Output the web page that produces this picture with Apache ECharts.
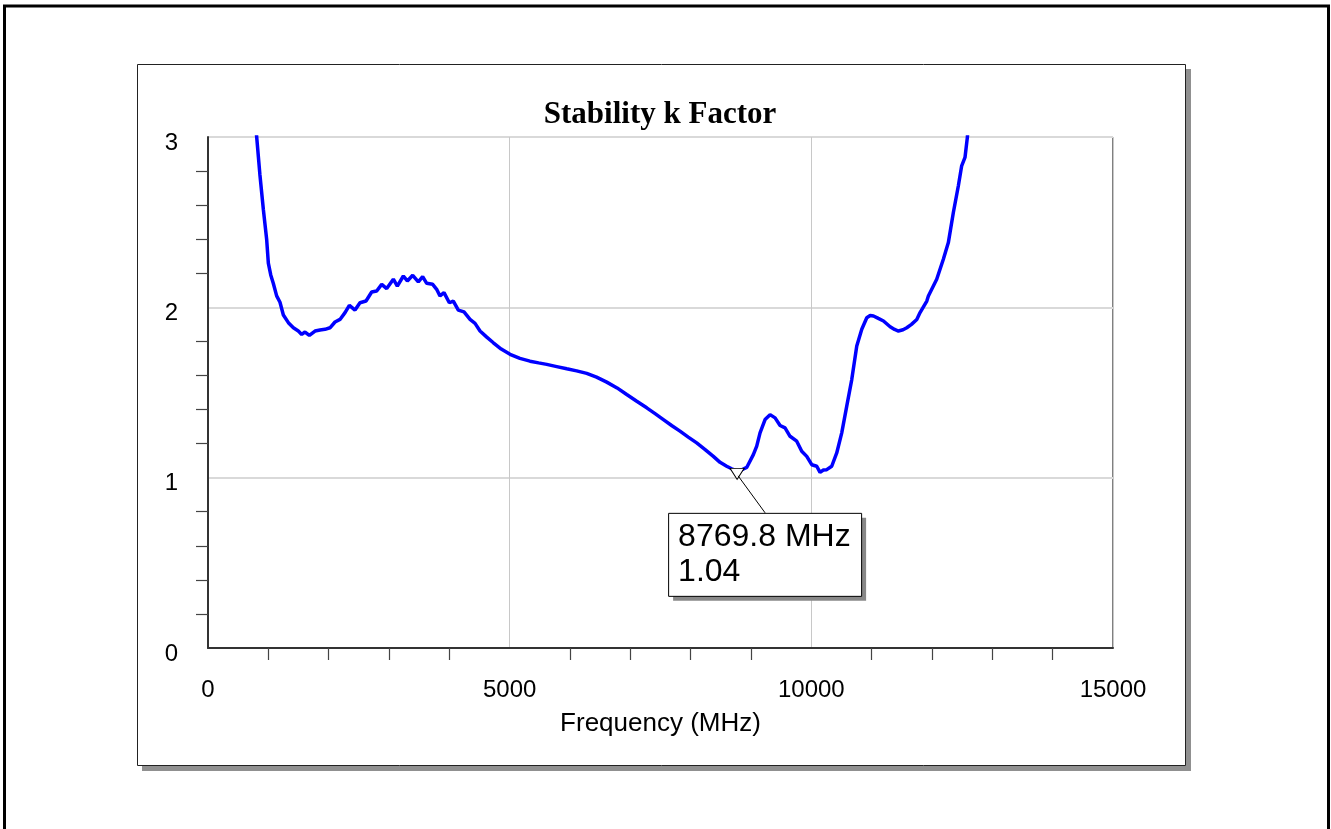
<!DOCTYPE html>
<html>
<head>
<meta charset="utf-8">
<title>Stability k Factor</title>
<script src="https://cdn.jsdelivr.net/npm/echarts@6/dist/echarts.min.js"></script>
<style>
  html, body { margin: 0; padding: 0; background: #fff; }
  #main { width: 1331px; height: 829px; }
</style>
</head>
<body>
<div id="main"></div>
<script>
// frequency points (MHz) and k factor
var freqs = [720, 807, 860, 917, 972, 1000, 1040, 1083, 1138, 1193, 1249, 1332, 1415, 1497, 1553, 1608, 1680,
  1774, 1856, 1939, 2022, 2105, 2188, 2271, 2343, 2437, 2519, 2619, 2713, 2796, 2879, 2962, 3072, 3138,
  3238, 3304, 3393, 3486, 3558, 3625, 3724, 3790, 3845, 3912, 4000, 4066, 4149, 4243, 4343, 4426, 4509,
  4620, 4730, 4860, 5006, 5170, 5337, 5480, 5614, 5780, 5946, 6110, 6277, 6440, 6609, 6780, 6940, 7100,
  7272, 7410, 7548, 7690, 7823, 7960, 8100, 8240, 8376, 8487, 8597, 8680, 8770, 8840, 8929, 9039, 9095,
  9150, 9233, 9316, 9399, 9482, 9564, 9647, 9758, 9841, 9924, 10007, 10090, 10144, 10200, 10255, 10338,
  10421, 10504, 10587, 10670, 10753, 10836, 10919, 10975, 11030, 11110, 11196, 11306, 11380, 11444, 11520,
  11582, 11660, 11748, 11802, 11914, 11940, 12078, 12188, 12271, 12354, 12437, 12492, 12547, 12586, 12650];
var kVals = [3.35, 3.0, 2.78, 2.576, 2.40, 2.26, 2.19, 2.14, 2.067, 2.030, 1.955, 1.910, 1.880, 1.861, 1.841, 1.855, 1.835,
  1.861, 1.867, 1.871, 1.880, 1.914, 1.929, 1.969, 2.012, 1.984, 2.027, 2.037, 2.090, 2.096, 2.135, 2.110, 2.165, 2.125,
  2.184, 2.155, 2.188, 2.149, 2.180, 2.141, 2.135, 2.106, 2.067, 2.086, 2.027, 2.037, 1.984, 1.973, 1.929, 1.906, 1.861,
  1.825, 1.792, 1.755, 1.724, 1.700, 1.684, 1.674, 1.665, 1.652, 1.639, 1.627, 1.612, 1.590, 1.561, 1.527, 1.488, 1.450,
  1.410, 1.376, 1.341, 1.305, 1.273, 1.238, 1.204, 1.165, 1.125, 1.090, 1.067, 1.052, 1.040, 1.045, 1.060, 1.135, 1.185,
  1.263, 1.341, 1.370, 1.351, 1.306, 1.292, 1.243, 1.214, 1.155, 1.125, 1.076, 1.067, 1.031, 1.045, 1.047, 1.067,
  1.145, 1.263, 1.420, 1.576, 1.773, 1.871, 1.939, 1.952, 1.949, 1.935, 1.920, 1.886, 1.870, 1.861, 1.868,
  1.880, 1.900, 1.929, 1.969, 2.037, 2.067, 2.165, 2.282, 2.380, 2.557, 2.714, 2.831, 2.880, 2.998, 3.30];

var xTicks = [0, 5000, 10000, 15000];
var yTicks = [0, 1, 2, 3];

// marker readout
var markerFreq = 8769.8;
var markerK = 1.04;

var data = [];
for (var i = 0; i < freqs.length; i++) {
    data.push([freqs[i], kVals[i]]);
}

var myChart = echarts.init(document.getElementById('main'));

var option = {
    animation: false,
    backgroundColor: '#fff',
    title: {
        text: 'Stability k Factor',
        left: 660,
        textAlign: 'center',
        top: 99,
        padding: 0,
        textStyle: {
            fontFamily: '"Liberation Serif", "Times New Roman", serif',
            fontWeight: 'bold',
            fontSize: 31,
            color: '#000'
        }
    },
    grid: {
        left: 208,
        top: 137,
        right: 218,
        bottom: 181,
        show: true,
        borderColor: '#000',
        borderWidth: 1,
        backgroundColor: 'transparent'
    },
    xAxis: {
        type: 'value',
        min: xTicks[0],
        max: xTicks[xTicks.length - 1],
        interval: 5000,
        name: 'Frequency (MHz)',
        nameLocation: 'middle',
        nameGap: 63,
        nameTextStyle: {
            fontFamily: '"Liberation Sans", Arial, sans-serif',
            fontSize: 26,
            color: '#000'
        },
        axisLine: { show: true, lineStyle: { color: '#333', width: 2 } },
        axisTick: { show: false },
        minorTick: { show: true, splitNumber: 5, length: 12, lineStyle: { color: '#444', width: 1.2 } },
        axisLabel: {
            margin: 30,
            formatter: function (v) { return String(v); },
            fontFamily: '"Liberation Sans", Arial, sans-serif',
            fontSize: 24,
            color: '#000'
        },
        splitLine: { show: true, lineStyle: { color: '#c8c8c8', width: 1 } }
    },
    yAxis: {
        type: 'value',
        min: yTicks[0],
        max: yTicks[yTicks.length - 1],
        interval: 1,
        axisLine: { show: true, lineStyle: { color: '#333', width: 2 } },
        axisTick: { show: false },
        minorTick: { show: true, splitNumber: 5, length: 12, lineStyle: { color: '#444', width: 1.2 } },
        axisLabel: {
            margin: 30,
            verticalAlign: 'top',
            lineHeight: 12,
            fontFamily: '"Liberation Sans", Arial, sans-serif',
            fontSize: 24,
            color: '#000'
        },
        splitLine: { show: true, lineStyle: { color: '#d9d9d9', width: 2 } }
    },
    series: [
        {
            type: 'line',
            data: data,
            showSymbol: false,
            clip: true,
            lineStyle: { color: '#0000ff', width: 3.5 },
            markPoint: {
                symbol: 'triangle',
                symbolRotate: 180,
                symbolSize: [14, 11],
                symbolOffset: [0, 3],
                label: { show: false },
                itemStyle: { color: '#fff', borderColor: '#000', borderWidth: 1 },
                data: [{ coord: [markerFreq, markerK] }]
            }
        }
    ]
};

myChart.setOption(option);

// frames + marker readout box, placed from the marker's pixel position
var p = myChart.convertToPixel({ gridIndex: 0 }, [markerFreq, markerK]);
var boxL = p[0] - 69, boxT = p[1] + 42, boxW = 193, boxH = 83;

myChart.setOption({
    graphic: [
        // outer frame
        { type: 'rect', z: -20, silent: true, shape: { x: 4.5, y: 6, width: 1324, height: 830 },
          style: { fill: 'none', stroke: '#000', lineWidth: 3 } },
        // chart panel shadow + panel
        { type: 'rect', z: -19, silent: true, shape: { x: 142, y: 69, width: 1049, height: 702 },
          style: { fill: '#909090' } },
        { type: 'rect', z: -18, silent: true, shape: { x: 137.5, y: 64.5, width: 1048, height: 701 },
          style: { fill: '#fff', stroke: '#222', lineWidth: 1 } },
        // leader line
        { type: 'line', z: 50, silent: true,
          shape: { x1: p[0] + 1, y1: p[1] + 5, x2: p[0] + 28, y2: boxT },
          style: { stroke: '#000', lineWidth: 1 } },
        // readout box
        { type: 'rect', z: 50, silent: true, shape: { x: boxL + 5, y: boxT + 5, width: boxW, height: boxH },
          style: { fill: '#888' } },
        { type: 'rect', z: 51, silent: true, shape: { x: boxL + 0.5, y: boxT + 0.5, width: boxW, height: boxH },
          style: { fill: '#fff', stroke: '#000', lineWidth: 1 } },
        { type: 'text', z: 52, silent: true, x: boxL + 10, y: boxT + 24,
          style: { text: markerFreq.toFixed(1) + ' MHz', fill: '#000', fontSize: 32,
                   fontFamily: '"Liberation Sans", Arial, sans-serif', verticalAlign: 'middle' } },
        { type: 'text', z: 52, silent: true, x: boxL + 10, y: boxT + 59,
          style: { text: markerK.toFixed(2), fill: '#000', fontSize: 32,
                   fontFamily: '"Liberation Sans", Arial, sans-serif', verticalAlign: 'middle' } }
    ]
});

window.onresize = function () {
    myChart.resize();
};
</script>
</body>
</html>
